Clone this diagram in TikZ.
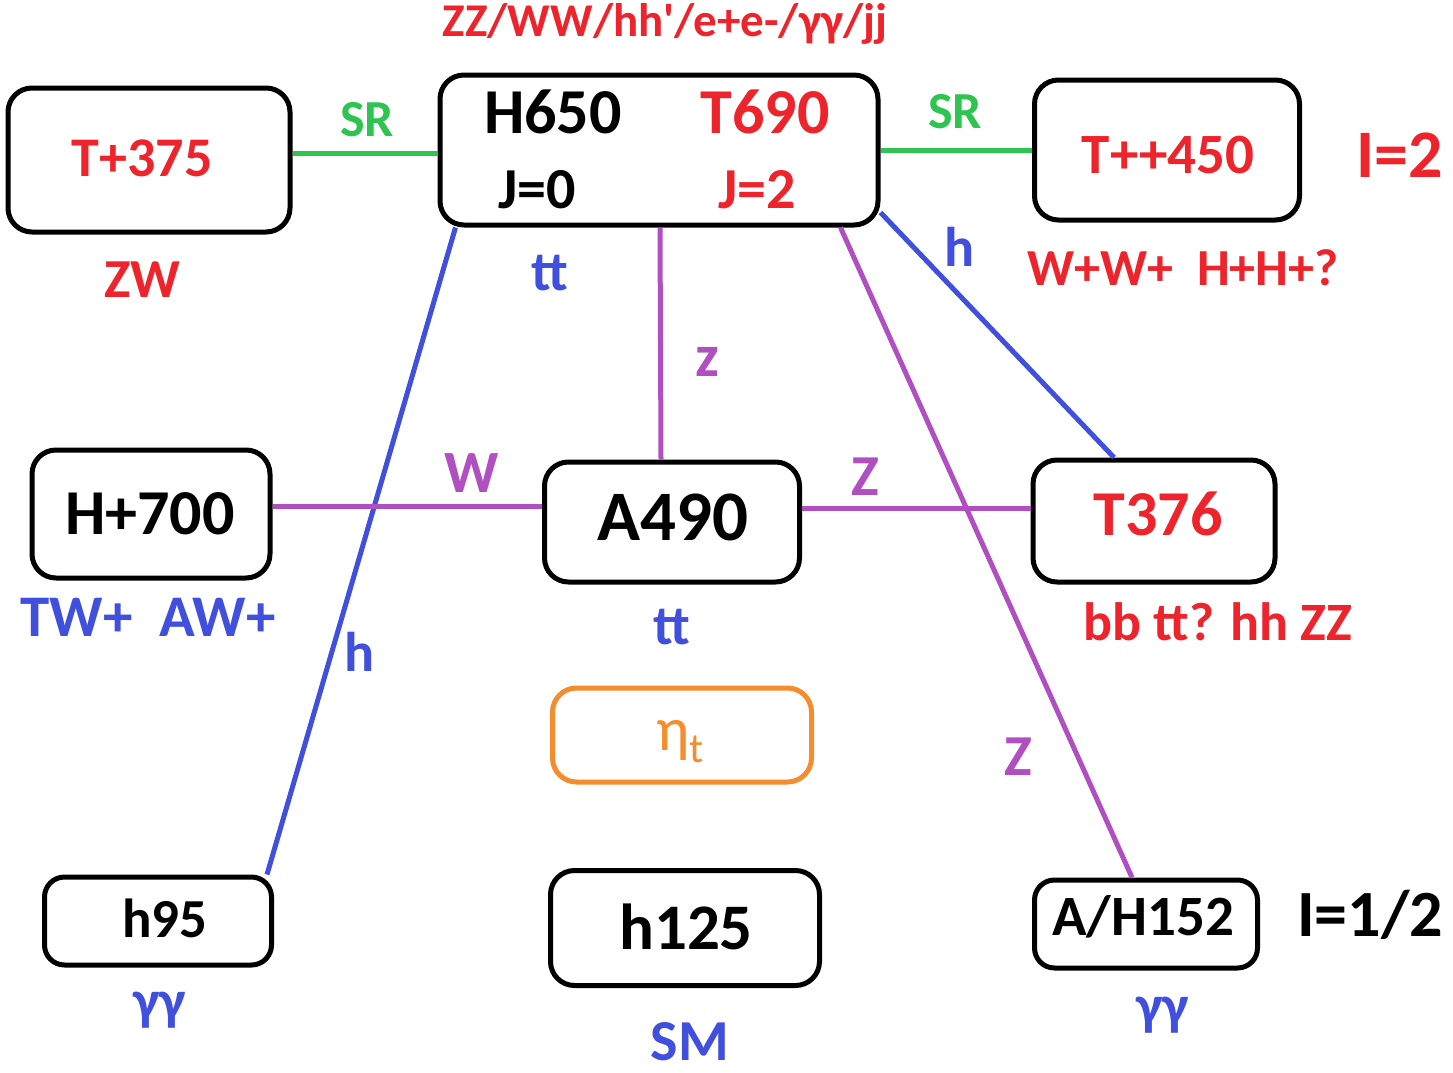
\documentclass[tikz,border=0pt]{standalone}
\usepackage{fontspec}
\setmainfont{Carlito}
\usetikzlibrary{calc}
\definecolor{cred}{RGB}{238,36,44}
\definecolor{cgreen}{RGB}{46,196,80}
\definecolor{cblue}{RGB}{64,80,220}
\definecolor{cpurple}{RGB}{176,80,192}
\definecolor{corange}{RGB}{245,140,45}
\newcommand{\fs}[1]{\fontsize{#1}{#1}\selectfont\bfseries}
\tikzset{
  box/.style={draw=black, line width=5pt, rounded corners=24pt, inner sep=0pt},
  lbl/.style={inner sep=0pt, anchor=center},
  greenline/.style={draw=cgreen, line width=5pt},
  blueline/.style={draw=cblue, line width=5pt},
  purpleline/.style={draw=cpurple, line width=5pt},
}
\begin{document}
\begin{tikzpicture}[x=1pt,y=-1pt]
\useasboundingbox (0,0) rectangle (1453,1073);
% boxes
\node[box, minimum width=282pt, minimum height=144pt] (t375) at (149,160) {};
\node[box, minimum width=438pt, minimum height=150pt] (h650) at (659,150) {};
\node[box, minimum width=265pt, minimum height=140pt] (t450) at (1167,150) {};
\node[box, minimum width=238pt, minimum height=128pt] (h700) at (151,514) {};
\node[box, minimum width=255pt, minimum height=120pt] (a490) at (672,522) {};
\node[box, minimum width=242pt, minimum height=122pt] (t376) at (1154,521) {};
\node[box, draw=corange, minimum width=259pt, minimum height=94pt] (eta) at (682,735) {};
\node[box, minimum width=227pt, minimum height=88pt, rounded corners=20pt] (h95) at (158,921) {};
\node[box, minimum width=269pt, minimum height=115pt] (h125) at (685,928) {};
\node[box, minimum width=223pt, minimum height=88pt, rounded corners=20pt] (ah152) at (1146,924) {};
% connectors
\draw[greenline] (t375.east |- 0,153) -- (h650.west |- 0,153);
\draw[greenline] (h650.east |- 0,150) -- (t450.west |- 0,150);
\draw[blueline] ($(h650.south west)+(18,0)$) -- ($(h95.north east)+(-7,0)$);
\draw[blueline] ($(h650.south east)+(0,-15)$) -- ($(t376.north)+(-40,0)$);
\draw[purpleline] ($(h650.south)+(1,0)$) -- ($(a490.north)+(-11,0)$);
\draw[purpleline] ($(h650.south east)+(-40,0)$) -- ($(ah152.north)+(-14,0)$);
\draw[purpleline] ($(h700.east)+(0,-8)$) -- ($(a490.west)+(0,-16)$);
\draw[purpleline] ($(a490.east)+(0,-14)$) -- ($(t376.west)+(0,-13)$);
% box texts
\node[lbl, text=cred] (t375t) at (142,158) {\fs{56}T+375};
\node[lbl] (h650t) at (553,112) {\fs{64}H650};
\node[lbl, text=cred] (t690t) at (765,112) {\fs{64}T690};
\node[lbl] (j0) at (537,190) {\fs{58}J=0};
\node[lbl, text=cred] (j2) at (757,190) {\fs{58}J=2};
\node[lbl, text=cred] (t450t) at (1168,155) {\fs{57}T++450};
\node[lbl] (h700t) at (150,514) {\fs{64}H+700};
\node[lbl] (a490t) at (673,517) {\fs{71}A490};
\node[lbl, text=cred] (t376t) at (1158,514) {\fs{64}T376};
\node[lbl, text=corange] (etat) at (680,742) {\fontsize{62}{62}\selectfont η\raisebox{-12pt}{\fontsize{42}{42}\selectfont t}};
\node[lbl] (h95t) at (165,918) {\fs{55}h95};
\node[lbl] (h125t) at (686,927) {\fs{65}h125};
\node[lbl] (ah152t) at (1143,917) {\fs{57}A/H152};
% labels
\node[lbl, text=cred] (top) at (665,24) {\fs{47}ZZ/WW/hh\textquotesingle/e+e-/γγ/jj};
\node[lbl, text=cgreen] (sr1) at (367,120) {\fs{52}SR};
\node[lbl, text=cgreen] (sr2) at (955,112) {\fs{52}SR};
\node[lbl, text=cred] (i2) at (1400,155) {\fs{68}I=2};
\node[lbl, text=cred] (zw) at (142,280) {\fs{55}ZW};
\node[lbl, text=cblue] (tt1) at (550,273) {\fs{56}tt};
\node[lbl, text=cblue] (hlab1) at (960,247) {\fs{56}h};
\node[lbl, text=cred] (wwhh) at (1183,268) {\fs{52}W+W+~~H+H+?};
\node[lbl, text=cpurple] (zlab1) at (707,362) {\fs{60}z};
\node[lbl, text=cpurple] (wlab) at (472,473) {\fs{60}W};
\node[lbl, text=cpurple] (zlab2) at (865,477) {\fs{58}Z};
\node[lbl, text=cblue] (twaw) at (148,617) {\fs{59}TW+~~AW+};
\node[lbl, text=cblue] (hlab2) at (360,652) {\fs{56}h};
\node[lbl, text=cblue] (tt2) at (672,627) {\fs{56}tt};
\node[lbl, text=cred] (bbtt) at (1218,622) {\fs{54}bb tt? hh ZZ};
\node[lbl, text=cpurple] (zlab3) at (1018,757) {\fs{58}Z};
\node[lbl] (ihalf) at (1370,915) {\fs{66}I=1/2};
\node[lbl, text=cblue] (gg1) at (160,1010) {\fs{56}γγ};
\node[lbl, text=cblue] (sm) at (690,1042) {\fs{58}SM};
\node[lbl, text=cblue] (gg2) at (1163,1015) {\fs{56}γγ};
\end{tikzpicture}
\end{document}
